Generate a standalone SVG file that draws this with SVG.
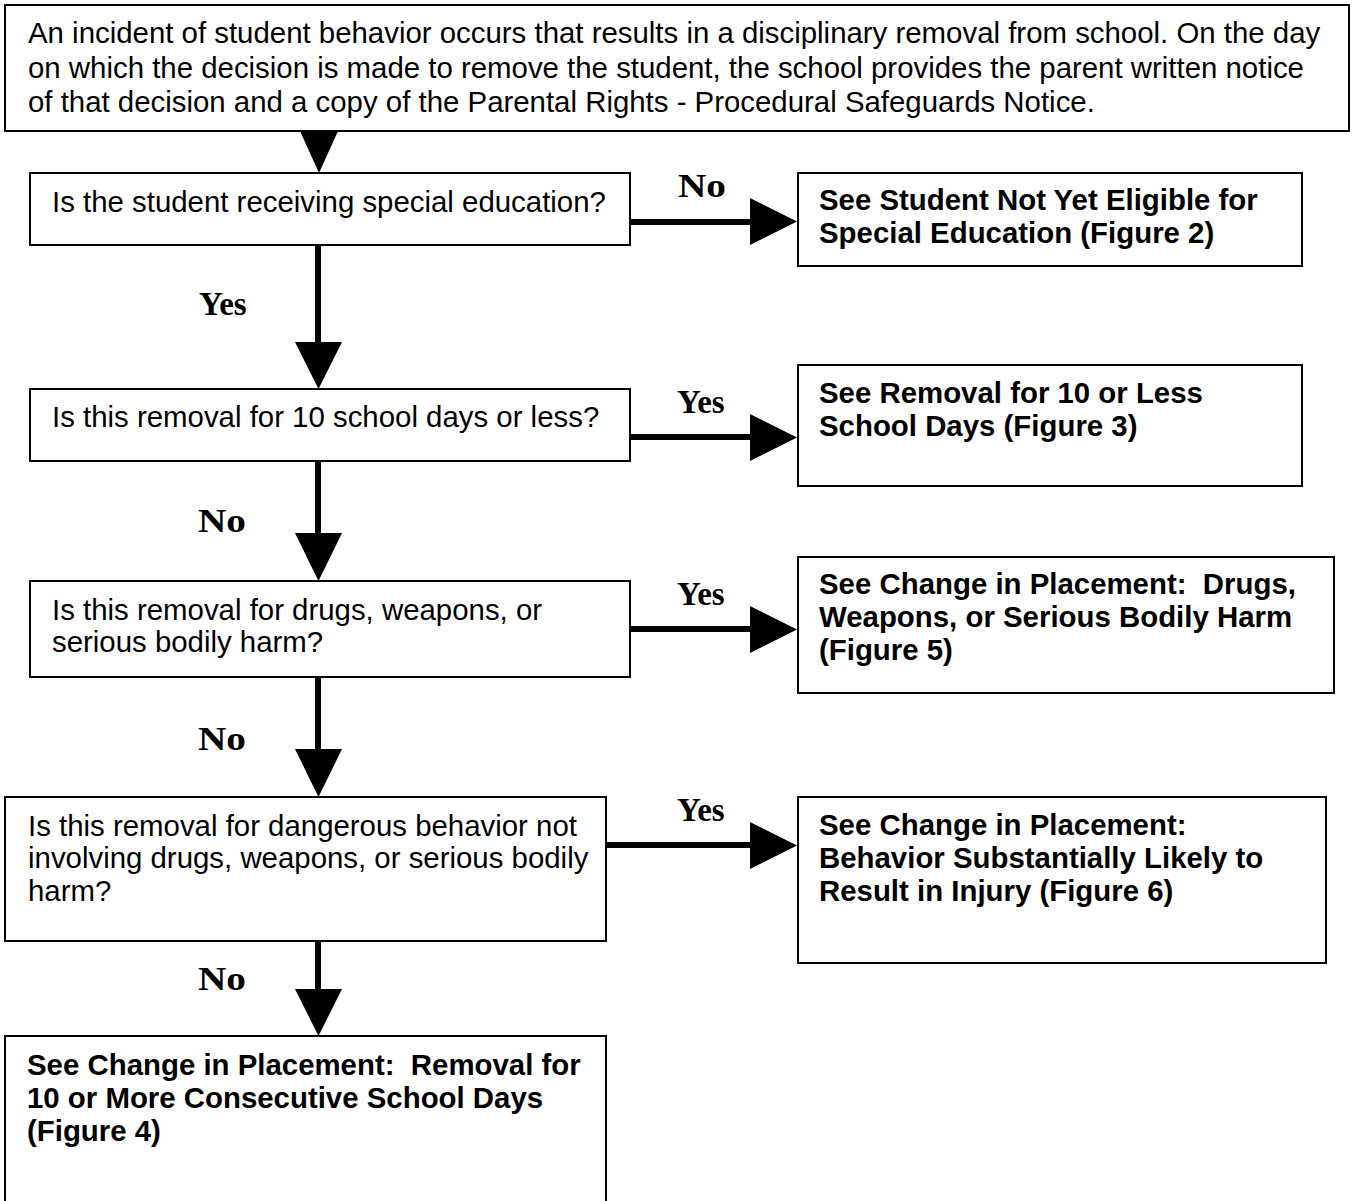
<svg xmlns="http://www.w3.org/2000/svg" width="1354" height="1201" viewBox="0 0 1354 1201">
<style>
.box{fill:#fff;stroke:#000;stroke-width:2}
.t{font-family:"Liberation Sans",Arial,sans-serif;font-size:29.4px;fill:#000}
.b{font-family:"Liberation Sans",Arial,sans-serif;font-size:29.4px;font-weight:bold;fill:#000}
.lbl{font-family:"Liberation Serif","Times New Roman",serif;font-size:33px;font-weight:bold;fill:#000}
.ln{stroke:#000;stroke-width:6;fill:none}
.hd{fill:#000;stroke:none}
</style>
<rect width="1354" height="1201" fill="#fff"/>
<g id="connectors">
<polygon class="hd" points="300,131 338,131 319,173"/>
<line class="ln" x1="318" y1="245" x2="318" y2="344"/>
<polygon class="hd" points="295,342 342,342 318.5,389"/>
<line class="ln" x1="318" y1="461" x2="318" y2="535"/>
<polygon class="hd" points="295,533 342,533 318.5,581"/>
<line class="ln" x1="318" y1="677" x2="318" y2="751"/>
<polygon class="hd" points="295,749 342,749 318.5,797"/>
<line class="ln" x1="318" y1="941" x2="318" y2="991"/>
<polygon class="hd" points="295,989 342,989 318.5,1036"/>
<line class="ln" x1="630" y1="222" x2="752" y2="222"/>
<polygon class="hd" points="750,198 750,245 797,221.5"/>
<line class="ln" x1="630" y1="437" x2="752" y2="437"/>
<polygon class="hd" points="750,414 750,461 797,437.5"/>
<line class="ln" x1="630" y1="629" x2="752" y2="629"/>
<polygon class="hd" points="750,606 750,653 797,629.5"/>
<line class="ln" x1="606" y1="845" x2="752" y2="845"/>
<polygon class="hd" points="750,822 750,869 797,845.5"/>
<text class="lbl" x="678" y="197" textLength="48" lengthAdjust="spacingAndGlyphs">No</text>
<text class="lbl" x="199" y="315">Yes</text>
<text class="lbl" x="677" y="413">Yes</text>
<text class="lbl" x="198" y="532" textLength="48" lengthAdjust="spacingAndGlyphs">No</text>
<text class="lbl" x="677" y="605">Yes</text>
<text class="lbl" x="198" y="750" textLength="48" lengthAdjust="spacingAndGlyphs">No</text>
<text class="lbl" x="677" y="821">Yes</text>
<text class="lbl" x="198" y="990" textLength="48" lengthAdjust="spacingAndGlyphs">No</text>
</g>
<g id="start">
<rect class="box" x="5" y="5" width="1344" height="126"/>
<text class="t" x="28" y="43">An incident of student behavior occurs that results in a disciplinary removal from school. On the day</text>
<text class="t" x="28" y="78">on which the decision is made to remove the student, the school provides the parent written notice</text>
<text class="t" x="28" y="112">of that decision and a copy of the Parental Rights - Procedural Safeguards Notice.</text>
</g>
<g id="q1">
<rect class="box" x="30" y="173" width="600" height="72"/>
<text class="t" x="52" y="212">Is the student receiving special education?</text>
</g>
<g id="r1">
<rect class="box" x="798" y="173" width="504" height="93"/>
<text class="b" x="819" y="210">See Student Not Yet Eligible for</text>
<text class="b" x="819" y="243">Special Education (Figure 2)</text>
</g>
<g id="q2">
<rect class="box" x="30" y="389" width="600" height="72"/>
<text class="t" x="52" y="427">Is this removal for 10 school days or less?</text>
</g>
<g id="r2">
<rect class="box" x="798" y="365" width="504" height="121"/>
<text class="b" x="819" y="403">See Removal for 10 or Less</text>
<text class="b" x="819" y="436">School Days (Figure 3)</text>
</g>
<g id="q3">
<rect class="box" x="30" y="581" width="600" height="96"/>
<text class="t" x="52" y="620">Is this removal for drugs, weapons, or</text>
<text class="t" x="52" y="652">serious bodily harm?</text>
</g>
<g id="r3">
<rect class="box" x="798" y="557" width="536" height="136"/>
<text class="b" x="819" y="594" xml:space="preserve">See Change in Placement:  Drugs,</text>
<text class="b" x="819" y="627">Weapons, or Serious Bodily Harm</text>
<text class="b" x="819" y="660">(Figure 5)</text>
</g>
<g id="q4">
<rect class="box" x="5" y="797" width="601" height="144"/>
<text class="t" x="28" y="836">Is this removal for dangerous behavior not</text>
<text class="t" x="28" y="868">involving drugs, weapons, or serious bodily</text>
<text class="t" x="28" y="901">harm?</text>
</g>
<g id="r4">
<rect class="box" x="798" y="797" width="528" height="166"/>
<text class="b" x="819" y="835">See Change in Placement:</text>
<text class="b" x="819" y="868">Behavior Substantially Likely to</text>
<text class="b" x="819" y="901">Result in Injury (Figure 6)</text>
</g>
<g id="r5">
<rect class="box" x="5" y="1036" width="601" height="172"/>
<text class="b" x="27" y="1075" xml:space="preserve">See Change in Placement:  Removal for</text>
<text class="b" x="27" y="1108">10 or More Consecutive School Days</text>
<text class="b" x="27" y="1141">(Figure 4)</text>
</g>
</svg>
